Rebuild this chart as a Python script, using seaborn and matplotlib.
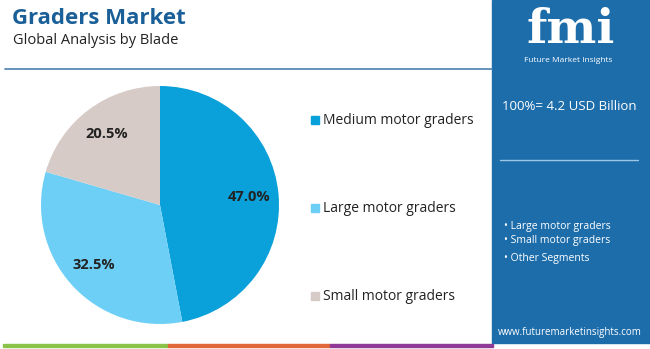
import matplotlib
matplotlib.use("Agg")
import matplotlib.pyplot as plt
import seaborn as sns
import numpy as np
from matplotlib.patches import Rectangle

sns.set_theme(style="white")
plt.rcParams['font.family'] = ['Open Sans', 'DejaVu Sans']

categories = ["Medium motor graders", "Large motor graders", "Small motor graders"]
values = [47.0, 32.5, 20.5]
colors = ["#0aa0d9", "#6dcff6", "#d6cbc6"]
panel_items = ["Large motor graders", "Small motor graders", "Other Segments"]
total_label = "100%= 4.2 USD Billion"

W, H = 650, 349
fig = plt.figure(figsize=(W/100, H/100), dpi=100)
fig.patch.set_facecolor("white")

def fx(x): return x / W
def fy(y): return 1 - y / H

# Title
fig.text(fx(12), fy(18), "Graders Market", fontsize=16, fontweight="bold",
         color="#1a5f98", va="center", ha="left")
fig.text(fx(13), fy(40), "Global Analysis by Blade", fontsize=10.5,
         color="#222222", va="center", ha="left")
fig.add_artist(plt.Line2D([fx(5), fx(492)], [fy(69), fy(69)], color="#4a7fb0", lw=1.2))

# Pie
ax = fig.add_axes([fx(41), fy(324), fx(238), 238 / H])
wedges, texts = ax.pie(values, colors=colors, startangle=90, counterclock=False,
                       wedgeprops=dict(linewidth=0))
ax.set_xlim(-1, 1)
ax.set_ylim(-1, 1)
ax.set_aspect("equal")
cum = 0
for v in values:
    mid = 90 - (cum + v / 2) * 3.6
    cum += v
    r = 0.75
    ax.text(r * np.cos(np.radians(mid)), r * np.sin(np.radians(mid)), f"{v:.1f}%",
            ha="center", va="center", fontsize=10.5, fontweight="bold", color="#222222")

# Legend
leg_y = [120, 208, 296]
for cat, col, y in zip(categories, colors, leg_y):
    fig.add_artist(Rectangle((fx(311), fy(y + 4)), fx(8), 8 / H, color=col,
                             transform=fig.transFigure))
    fig.text(fx(323), fy(y), cat, fontsize=10, color="#222222", va="center", ha="left")

# Right panel
fig.add_artist(Rectangle((fx(492), fy(343)), fx(158), 343 / H, color="#1d6dab",
                         transform=fig.transFigure, zorder=0))
fig.text(fx(571), fy(30), "fmi", fontsize=34, fontweight="bold", color="white",
         ha="center", va="center", family=["DejaVu Serif"])
fig.text(fx(568), fy(60), "Future Market Insights", fontsize=6, color="white",
         ha="center", va="center")
fig.text(fx(569), fy(106), total_label, fontsize=9.5, color="white",
         ha="center", va="center")
fig.add_artist(plt.Line2D([fx(500), fx(638)], [fy(160), fy(160)], color="#9ec7e6", lw=1))
for item, y in zip(panel_items, [227, 241, 258]):
    fig.text(fx(504), fy(y), "• " + item, fontsize=7.5, color="white",
             ha="left", va="center")
fig.text(fx(570), fy(333), "www.futuremarketinsights.com", fontsize=7, color="white",
         ha="center", va="center")

# Bottom stripes
for x0, x1, c in [(3, 168, "#8bc34a"), (168, 330, "#e2673a"), (330, 493, "#8e3a96")]:
    fig.add_artist(Rectangle((fx(x0), fy(347)), fx(x1 - x0), 3 / H, color=c,
                             transform=fig.transFigure))

fig.savefig("out.png", dpi=100)
